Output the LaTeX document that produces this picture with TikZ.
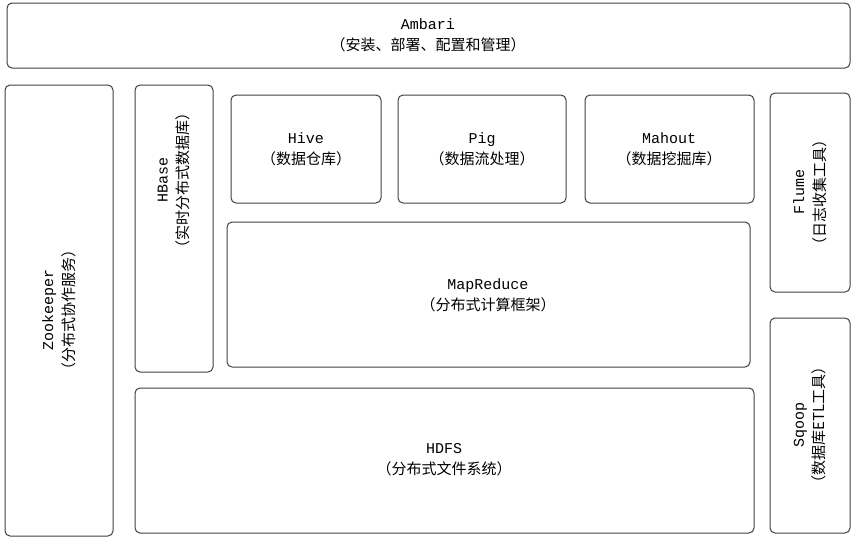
\documentclass[tikz,border=0pt]{standalone}
\usepackage{fontspec}
\setmainfont{Liberation Mono}
\newfontfamily\cjk{Noto Sans CJK SC}
\begin{document}
\begin{tikzpicture}[x=1pt,y=-1pt,
  blk/.style={draw=black!75,line width=1pt,rounded corners=5pt},
  lbl/.style={align=center,font=\fontsize{15}{21}\selectfont}]
\useasboundingbox (0,0) rectangle (857,542);
\draw[blk] (7,3) rectangle (850,68);
\node[lbl] (amb) at (428,35) {Ambari\\{\cjk （安装、部署、配置和管理）}};
\draw[blk] (5,85) rectangle (113,536);
\node[lbl,rotate=90] (zk) at (59,310) {Zookeeper\\{\cjk （分布式协作服务）}};
\draw[blk] (135,85) rectangle (213,372);
\node[lbl,rotate=90] (hb) at (174,180) {HBase\\{\cjk （实时分布式数据库）}};
\draw[blk] (231,95) rectangle (381,203);
\node[lbl] (hive) at (306,149) {Hive\\{\cjk （数据仓库）}};
\draw[blk] (398,95) rectangle (566,203);
\node[lbl] (pig) at (482,149) {Pig\\{\cjk （数据流处理）}};
\draw[blk] (585,95) rectangle (754,203);
\node[lbl] (mah) at (669,149) {Mahout\\{\cjk （数据挖掘库）}};
\draw[blk] (227,222) rectangle (750,367);
\node[lbl] (mr) at (488,295) {MapReduce\\{\cjk （分布式计算框架）}};
\draw[blk] (135,388) rectangle (754,533);
\node[lbl] (hdfs) at (444,460) {HDFS\\{\cjk （分布式文件系统）}};
\draw[blk] (770,93) rectangle (850,292);
\node[lbl,rotate=90] (fl) at (810,192) {Flume\\{\cjk （日志收集工具）}};
\draw[blk] (770,318) rectangle (850,533);
\node[lbl,rotate=90] (sq) at (810,425) {Sqoop\\{\cjk （数据库ETL工具）}};
\end{tikzpicture}
\end{document}
